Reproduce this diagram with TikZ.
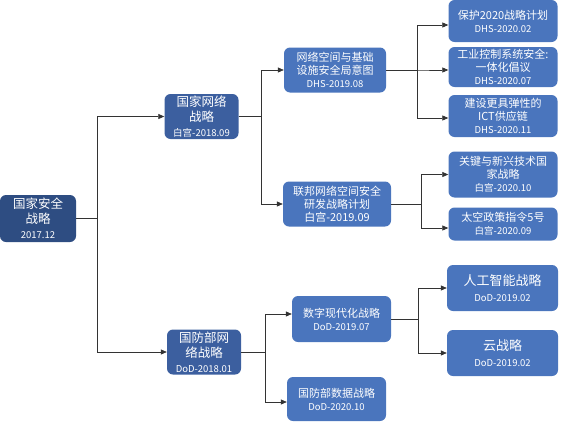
\documentclass[tikz,border=0pt]{standalone}
\usepackage{fontspec}
\setmainfont{Noto Sans CJK SC}
\usetikzlibrary{arrows.meta}

\definecolor{rootblue}{HTML}{2E4D82}
\definecolor{midblue}{HTML}{3C5F9F}
\definecolor{leafblue}{HTML}{4A75BD}
\newcommand{\datetag}[1]{{\fontsize{9.5}{12}\selectfont #1}}

\begin{document}
\begin{tikzpicture}[
  x=1pt, y=-1pt,
  box/.style     = {rounded corners=6pt, text=white, align=center, inner sep=1pt,
                    font=\fontsize{11}{13}\selectfont},
  rootbox/.style = {box, fill=rootblue, minimum width=76pt, minimum height=47pt,
                    font=\fontsize{12.5}{15}\selectfont},
  midbox/.style  = {box, fill=midblue, minimum width=74pt, minimum height=45pt,
                    font=\fontsize{12.5}{15}\selectfont},
  subbox/.style  = {box, fill=leafblue, minimum width=102pt, minimum height=45pt},
  leaf/.style    = {box, fill=leafblue, minimum width=109pt, minimum height=42pt},
  arr/.style     = {-{Triangle[length=6pt,width=5pt]}, draw=black!80, line width=0.7pt},
]
\useasboundingbox (0,0) rectangle (561,423);

%% Nodes
\node[rootbox] (root)    at (38,218.5)  {国家安全\\战略\\\datetag{2017.12}};
\node[midbox]  (cyber)   at (201.5,116.5) {国家网络\\战略\\\datetag{白宫-2018.09}};
\node[midbox]  (dodcyb)  at (204,352)   {国防部网\\络战略\\\datetag{DoD-2018.01}};

\node[subbox]  (cisa)    at (335,70)    {网络空间与基础\\设施安全局意图\\\datetag{DHS-2019.08}};
\node[subbox, minimum width=108pt] (rnd) at (337,204)
      {联邦网络空间安全\\研发战略计划\\白宫-2019.09};
\node[subbox, minimum width=99pt, minimum height=46pt] (digital) at (341.5,319)
      {数字现代化战略\\\datetag{DoD-2019.07}};
\node[subbox, minimum width=99pt, minimum height=44pt] (data) at (336.5,399)
      {国防部数据战略\\\datetag{DoD-2020.10}};

\node[leaf] (protect)  at (503,21)   {保护2020战略计划\\\datetag{DHS-2020.02}};
\node[leaf, minimum height=40pt] (ics) at (503,67)
      {工业控制系统安全:\\一体化倡议\\\datetag{DHS-2020.07}};
\node[leaf] (ict)      at (503,116)  {建设更具弹性的\\ICT供应链\\\datetag{DHS-2020.11}};
\node[leaf, minimum height=46pt] (emerge) at (503,174.5)
      {关键与新兴技术国\\家战略\\\datetag{白宫-2020.10}};
\node[leaf, minimum height=33pt] (space)  at (503,224)
      {太空政策指令5号\\\datetag{白宫-2020.09}};
\node[leaf, minimum width=111pt, minimum height=46pt,
      font=\fontsize{13}{16}\selectfont] (ai)  at (502.5,288)
      {人工智能战略\\\datetag{DoD-2019.02}};
\node[leaf, minimum width=111pt, minimum height=46pt,
      font=\fontsize{13}{16}\selectfont] (cloud) at (502.5,353)
      {云战略\\\datetag{DoD-2019.02}};

%% Bus positions
\coordinate (bus0) at (97,0);
\coordinate (bus1) at (261,0);
\coordinate (bus2) at (417,0);
\coordinate (bus3) at (421,0);
\coordinate (bus4) at (265,0);
\coordinate (bus5) at (418,0);

%% Connectors
\draw[arr] (root.east) -- (root.east -| bus0) |- (cyber.west);
\draw[arr] (root.east) -- (root.east -| bus0) |- (dodcyb.west);

\draw[arr] (cyber.east) -- (cyber.east -| bus1) |- (cisa.west);
\draw[arr] (cyber.east) -- (cyber.east -| bus1) |- (rnd.west);

\draw[arr] (cisa.east) -- (cisa.east -| bus2) |- ([yshift=-4pt]protect.west);
\draw[arr] (cisa.east) -- (cisa.east -| bus2) |- ([yshift=-3pt]ics.west);
\draw[arr] (cisa.east) -- (cisa.east -| bus2) |- ([yshift=-2pt]ict.west);

\draw[arr] (rnd.east) -- (rnd.east -| bus3) |- (emerge.west);
\draw[arr] (rnd.east) -- (rnd.east -| bus3) |- ([yshift=-4pt]space.west);

\draw[arr] (dodcyb.east) -- (dodcyb.east -| bus4) |- ([yshift=5pt]digital.west);
\draw[arr] (dodcyb.east) -- (dodcyb.east -| bus4) |- ([yshift=-3pt]data.west);

\draw[arr] (digital.east) -- (digital.east -| bus5) |- (ai.west);
\draw[arr] (digital.east) -- (digital.east -| bus5) |- (cloud.west);

\end{tikzpicture}
\end{document}
